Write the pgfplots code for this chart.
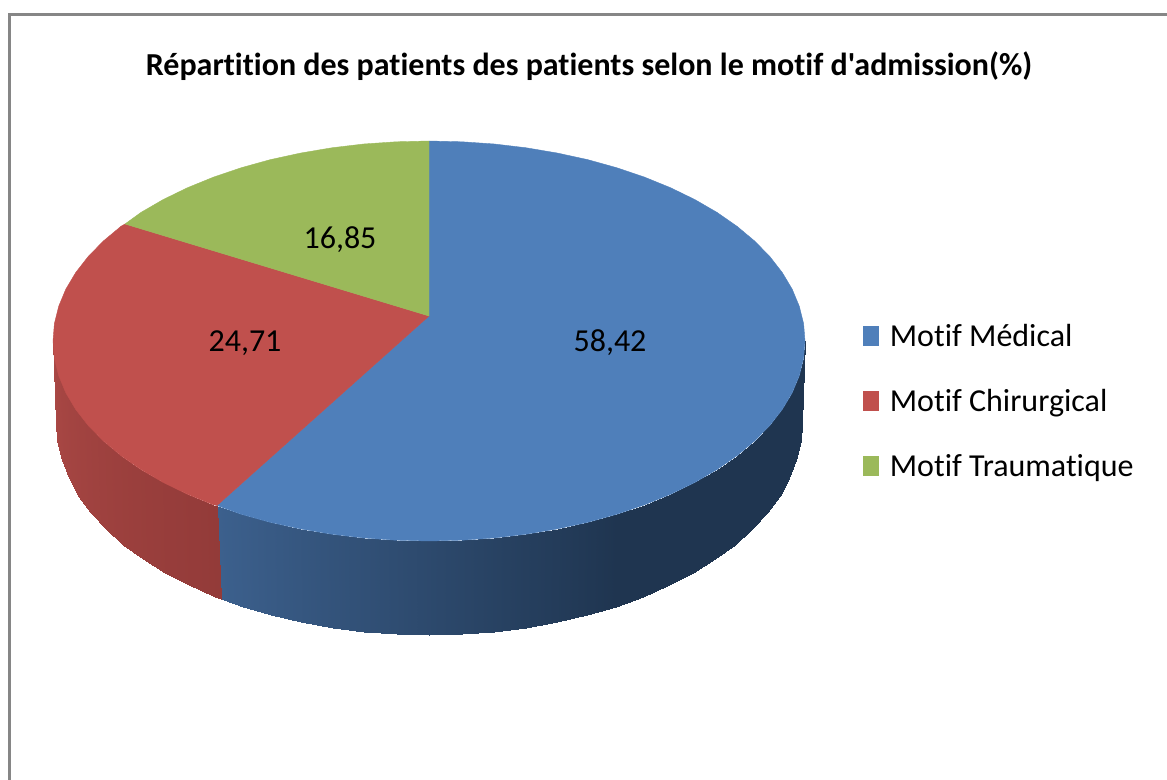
\documentclass[border=0pt]{standalone}
\usepackage{pgfplots}
\pgfplotsset{compat=1.18}
\usepackage{fontspec}
\setmainfont{Carlito}[Ligatures=NoCommon]
\newfontfamily\plainfont{Carlito}[Ligatures=NoCommon]
\definecolor{pieblue}{RGB}{79,127,186}
\definecolor{piered}{RGB}{192,80,77}
\definecolor{piegreen}{RGB}{155,185,90}
\definecolor{frame}{RGB}{134,134,134}
\begin{document}
\begin{tikzpicture}
\useasboundingbox (0,0) rectangle (875.25pt,585pt);
\begin{axis}[
  at={(0,0)}, anchor=south west,
  scale only axis, width=875.25pt, height=585pt,
  xmin=0, xmax=1167, ymin=0, ymax=780, y dir=reverse,
  hide axis, clip=true,
  colormap={piesides}{rgb255(0)=(31,53,80) rgb255(100)=(60,96,141) rgb255(101)=(147,59,57) rgb255(200)=(170,72,69)},
  point meta min=0, point meta max=200,
  legend style={at={(axis cs:863,324)}, anchor=north west, draw=none, fill=none,
    inner sep=0pt, outer sep=0pt, font=\fontsize{24}{28}\selectfont,
    row sep=30.75pt, nodes={inner sep=0pt, anchor=west}},
  legend cell align=left,
  legend image code/.code={\fill[#1,draw=none] (0pt,-7.5pt) rectangle (12pt,7.5pt); \path (20pt,0pt);},
]
% frame of the chart area
\addplot[frame, line width=2.4pt, forget plot] coordinates {(9.7,800) (9.7,14.7) (1190,14.7)};
% side wall strips: x, y, shade
\addplot[patch, patch type=rectangle, shader=interp, forget plot, point meta=explicit]
table[x=x, y=y, meta=m] {
x y m
805 341 0
803.6 358.4 0
800.6 441.5 0
802 423 0
803.6 358.4 0
799.3 375.7 0
796.3 459.8 0
800.6 441.5 0
799.3 375.7 0
792.2 392.8 0
789.3 477.9 0
796.3 459.8 0
792.2 392.8 0
782.3 409.4 0
779.5 495.5 0
789.3 477.9 0
782.3 409.4 0
769.8 425.5 0
767.1 512.6 0
779.5 495.5 0
769.8 425.5 0
754.6 441 0
752 529 0
767.1 512.6 0
754.6 441 0
737 455.7 0
734.6 544.6 0
752 529 0
737 455.7 0
717 469.6 0
714.7 559.3 0
734.6 544.6 0
717 469.6 0
694.9 482.4 0
692.7 572.9 0
714.7 559.3 0
694.9 482.4 0
670.7 494.2 0
668.8 585.4 0
692.7 572.9 0
670.7 494.2 0
644.7 504.8 0
642.9 596.7 0
668.8 585.4 0
644.7 504.8 0
617 514.2 0
615.5 606.6 0
642.9 596.7 0
617 514.2 0
587.9 522.3 8
586.6 615.1 8
615.5 606.6 0
587.9 522.3 8
557.6 528.9 16
556.6 622.2 16
586.6 615.1 8
557.6 528.9 16
526.3 534.2 23
525.5 627.8 23
556.6 622.2 16
526.3 534.2 23
494.3 538 31
493.8 631.8 31
525.5 627.8 23
494.3 538 31
461.8 540.2 39
461.5 634.2 39
493.8 631.8 31
461.8 540.2 39
429 541 47
429 635 47
461.5 634.2 39
429 541 47
396.2 540.2 55
396.5 634.2 55
429 635 47
396.2 540.2 55
363.7 538 63
364.2 631.8 63
396.5 634.2 55
363.7 538 63
331.7 534.2 70
332.5 627.8 70
364.2 631.8 63
331.7 534.2 70
300.4 528.9 78
301.4 622.2 78
332.5 627.8 70
300.4 528.9 78
270.1 522.3 86
271.4 615.1 86
301.4 622.2 78
270.1 522.3 86
241 514.2 94
242.5 606.6 94
271.4 615.1 86
241 514.2 94
217 505.5 100
221 598.5 100
242.5 606.6 94
217 505.5 101
213.3 504.8 103
215.1 596.7 103
221 598.5 101
213.3 504.8 103
187.3 494.2 112
189.2 585.4 112
215.1 596.7 103
187.3 494.2 112
163.1 482.4 120
165.3 572.9 120
189.2 585.4 112
163.1 482.4 120
141 469.6 129
143.3 559.3 129
165.3 572.9 120
141 469.6 129
121 455.7 138
123.4 544.6 138
143.3 559.3 129
121 455.7 138
103.4 441 147
106 529 147
123.4 544.6 138
103.4 441 147
88.2 425.5 156
90.9 512.6 156
106 529 147
88.2 425.5 156
75.7 409.4 165
78.5 495.5 165
90.9 512.6 156
75.7 409.4 165
65.8 392.8 174
68.7 477.9 174
78.5 495.5 165
65.8 392.8 174
58.7 375.7 182
61.7 459.8 182
68.7 477.9 174
58.7 375.7 182
54.4 358.4 191
57.4 441.5 191
61.7 459.8 182
54.4 358.4 191
53 341 200
56 423 200
57.4 441.5 191
};
% top faces
\addplot[fill=pieblue, draw=pieblue, line width=0.3pt] coordinates {
(429,316) (429,141) (461.8,141.8) (494.3,144) (526.3,147.8) (557.6,153.1) (587.9,159.7) (617,167.8) (644.7,177.2) (670.7,187.8) (694.9,199.6) (717,212.4) (737,226.3) (754.6,241) (769.8,256.5) (782.3,272.6) (792.2,289.2) (799.3,306.3) (803.6,323.6) (805,341) (803.6,358.4) (799.3,375.7) (792.2,392.8) (782.3,409.4) (769.8,425.5) (754.6,441) (737,455.7) (717,469.6) (694.9,482.4) (670.7,494.2) (644.7,504.8) (617,514.2) (587.9,522.3) (557.6,528.9) (526.3,534.2) (494.3,538) (461.8,540.2) (429,541) (396.2,540.2) (363.7,538) (331.7,534.2) (300.4,528.9) (270.1,522.3) (241,514.2) (217,505.5)
} -- cycle;
\addlegendentry{Motif Médical}
\addplot[fill=piered, draw=piered, line width=0.3pt] coordinates {
(429,316) (217,505.5) (213.3,504.8) (187.3,494.2) (163.1,482.4) (141,469.6) (121,455.7) (103.4,441) (88.2,425.5) (75.7,409.4) (65.8,392.8) (58.7,375.7) (54.4,358.4) (53,341) (54.4,323.6) (58.7,306.3) (65.8,289.2) (75.7,272.6) (88.2,256.5) (103.4,241) (121,226.3) (125,224)
} -- cycle;
\addlegendentry{Motif Chirurgical}
\addplot[fill=piegreen, draw=piegreen, line width=0.3pt] coordinates {
(429,316) (125,224) (141,212.4) (163.1,199.6) (187.3,187.8) (213.3,177.2) (241,167.8) (270.1,159.7) (300.4,153.1) (331.7,147.8) (363.7,144) (396.2,141.8) (429,141)
} -- cycle;
\addlegendentry{Motif Traumatique}
\node[font=\fontsize{24}{28}\selectfont, black] at (axis cs:610,343) {58,42};
\node[font=\fontsize{24}{28}\selectfont, black] at (axis cs:245,343) {24,71};
\node[font=\fontsize{24}{28}\selectfont, black] at (axis cs:340,240) {16,85};
\node[font=\plainfont\bfseries\fontsize{24}{28}\selectfont, black] at (axis cs:589,66) {Répartition des patients des patients selon le motif d{\char39}admission(\%)};
\end{axis}
\end{tikzpicture}
\end{document}
